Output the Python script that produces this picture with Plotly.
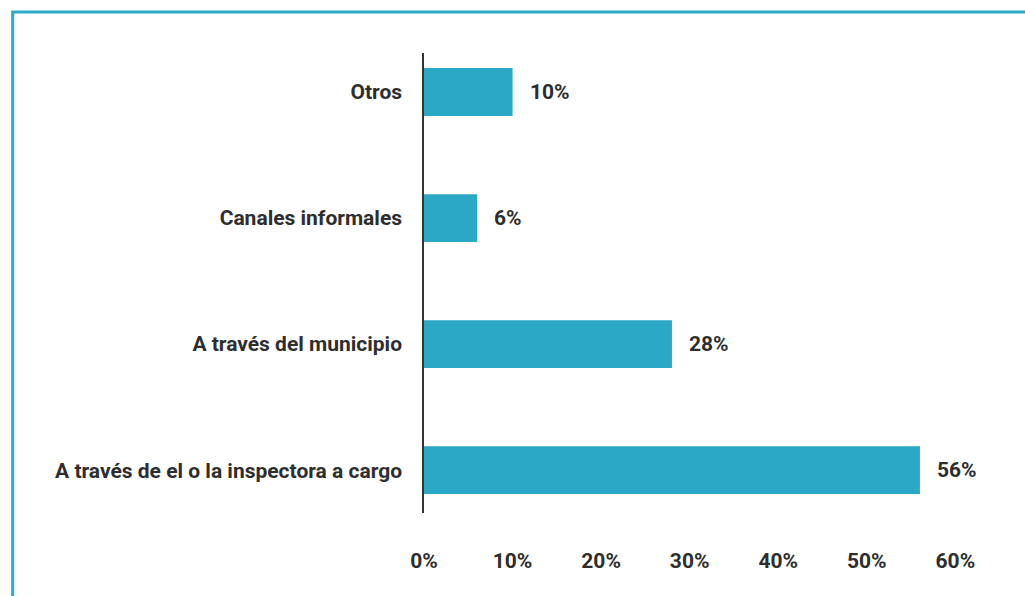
import plotly.graph_objects as go

# Survey answers: channel used to report, share of respondents (%)
categories = [
    "A través de el o la inspectora a cargo",
    "A través del municipio",
    "Canales informales",
    "Otros",
]
values = [56, 28, 6, 10]
tick_values = [0, 10, 20, 30, 40, 50, 60]
tick_labels = ["0%", "10%", "20%", "30%", "40%", "50%", "60%"]

BAR = "#2aa8c6"
TEXT = "#2e2e2e"
FONT = "Roboto"
SIZE = 21

fig = go.Figure(
    go.Bar(
        y=categories,
        x=values,
        orientation="h",
        marker=dict(color=BAR, line=dict(width=0)),
        width=0.38,
        hoverinfo="skip",
    )
)

# value labels to the right of each bar
for cat, val in zip(categories, values):
    fig.add_annotation(
        x=val, y=cat, text=f"{val}%", showarrow=False,
        xanchor="left", xshift=15,
        font=dict(family=FONT, size=SIZE, color=TEXT, weight="bold"),
    )

# teal frame around the graphic
fig.add_shape(
    type="rect", xref="paper", yref="paper",
    x0=-0.728, x1=1.2, y0=-0.3, y1=1.089,
    line=dict(color="#2aabc8", width=3), fillcolor="rgba(0,0,0,0)",
    layer="below",
)

fig.update_layout(
    width=1025, height=596,
    margin=dict(l=424, r=36, t=53, b=83),
    paper_bgcolor="white", plot_bgcolor="white",
    showlegend=False,
    font=dict(family=FONT, size=SIZE, color=TEXT),
)
fig.update_xaxes(
    range=[0, 63.8], tickvals=tick_values, ticktext=tick_labels,
    showgrid=False, zeroline=False, showline=False, ticks="",
    tickfont=dict(family=FONT, size=SIZE, color=TEXT, weight="bold"),
    ticklabelstandoff=33, fixedrange=True,
)
fig.update_yaxes(
    range=[-0.34, 3.31], showgrid=False, zeroline=False,
    showline=True, linecolor="#333333", linewidth=1.5,
    ticks="", ticklabelstandoff=16,
    tickfont=dict(family=FONT, size=SIZE, color=TEXT, weight="bold"),
    fixedrange=True,
)

fig.write_html("out.html", config={"displayModeBar": False})
